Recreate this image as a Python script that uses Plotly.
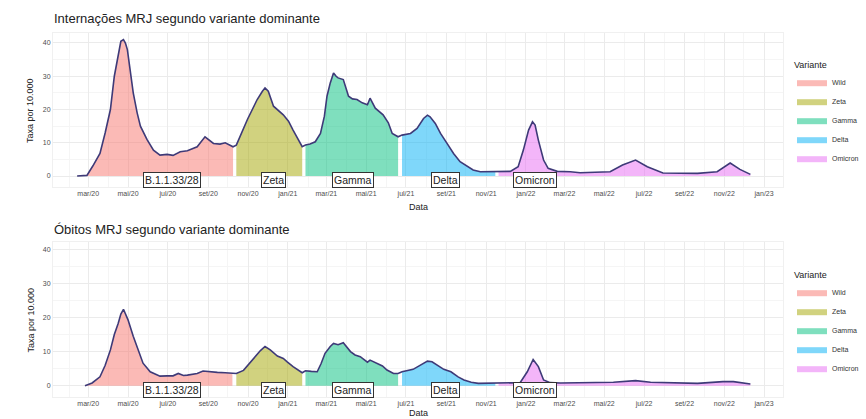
import plotly.graph_objects as go

# ---------------- data ----------------
variants = ["Wild", "Zeta", "Gamma", "Delta", "Omicron"]
fill_colors = ["rgba(248,118,109,0.5)", "rgba(163,165,0,0.5)", "rgba(0,191,125,0.5)",
               "rgba(0,176,246,0.5)", "rgba(231,107,243,0.5)"]

# Internações (hospitalisations) per variant period
hosp_wild_x = ["2020-02-13", "2020-02-28", "2020-03-08", "2020-03-19", "2020-03-27", "2020-04-04",
               "2020-04-10", "2020-04-16", "2020-04-20", "2020-04-24", "2020-04-27", "2020-04-30",
               "2020-05-04", "2020-05-09", "2020-05-15", "2020-05-20", "2020-05-30", "2020-06-09",
               "2020-06-19", "2020-06-30", "2020-07-09", "2020-07-20", "2020-07-31", "2020-08-15",
               "2020-08-27", "2020-09-09", "2020-09-19", "2020-09-27", "2020-10-09"]
hosp_wild_y = [0, 0.2, 3, 6.8, 13, 20, 30, 37, 40.5, 41, 40, 38, 32, 25, 19, 15, 11, 7.8,
               6.3, 6.5, 6.2, 7.3, 7.6, 8.8, 11.8, 9.8, 9.6, 10, 8.8]
hosp_zeta_x = ["2020-10-14", "2020-10-31", "2020-11-15", "2020-11-23", "2020-11-27", "2020-12-02",
               "2020-12-10", "2020-12-25", "2021-01-02", "2021-01-09", "2021-01-23"]
hosp_zeta_y = [9.3, 17, 23, 25.5, 26.5, 25.5, 21, 18.4, 16.5, 13.8, 8.8]
hosp_gamma_x = ["2021-01-28", "2021-02-04", "2021-02-12", "2021-02-20", "2021-02-26", "2021-03-02",
                "2021-03-07", "2021-03-12", "2021-03-16", "2021-03-19", "2021-03-27", "2021-04-04",
                "2021-04-10", "2021-04-17", "2021-04-25", "2021-05-03", "2021-05-07", "2021-05-15",
                "2021-05-27", "2021-06-04", "2021-06-10", "2021-06-19"]
hosp_gamma_y = [9.3, 9.6, 10.3, 12.8, 18, 24, 28, 31, 30, 29.5, 29, 24, 23.2, 23, 22, 21.4,
                23.4, 20.4, 18.4, 16, 12.8, 11.8]
hosp_delta_x = ["2021-06-25", "2021-07-08", "2021-07-18", "2021-07-28", "2021-08-03", "2021-08-07",
                "2021-08-15", "2021-08-23", "2021-09-02", "2021-09-12", "2021-09-22", "2021-10-03",
                "2021-10-12", "2021-10-23", "2021-11-07", "2021-11-15"]
hosp_delta_y = [12.3, 12.8, 14.3, 17.3, 18.3, 17.8, 15.8, 12.8, 9.8, 6.8, 4.3, 2.8, 1.8, 1.3, 1.3, 1.3]
hosp_omi_x = ["2021-11-20", "2021-12-08", "2021-12-20", "2021-12-28", "2022-01-05", "2022-01-11",
              "2022-01-15", "2022-01-20", "2022-01-28", "2022-02-04", "2022-02-18", "2022-03-10",
              "2022-03-25", "2022-04-25", "2022-05-10", "2022-05-29", "2022-06-18", "2022-07-06",
              "2022-07-30", "2022-09-21", "2022-10-21", "2022-11-10", "2022-11-25", "2022-12-11"]
hosp_omi_y = [1.3, 1.4, 2.8, 7.8, 13.8, 16.3, 15.3, 10.8, 4.8, 2.3, 1.4, 1.3, 1.0, 1.1, 1.3,
              3.3, 4.8, 2.8, 0.9, 0.8, 1.3, 3.9, 2.0, 0.5]

# Óbitos (deaths) per variant period
death_wild_x = ["2020-02-25", "2020-03-07", "2020-03-19", "2020-03-27", "2020-04-04", "2020-04-10",
                "2020-04-16", "2020-04-20", "2020-04-24", "2020-04-28", "2020-05-01", "2020-05-09",
                "2020-05-15", "2020-05-24", "2020-06-04", "2020-06-19", "2020-06-30", "2020-07-09",
                "2020-07-17", "2020-07-25", "2020-07-31", "2020-08-15", "2020-08-24", "2020-09-04",
                "2020-09-15", "2020-09-27", "2020-10-08"]
death_wild_y = [0, 0.8, 2.6, 6, 10.5, 15, 18.3, 21, 22.4, 20.5, 19.3, 14.5, 11.5, 6.6, 4.1,
                2.8, 2.9, 2.9, 3.6, 3.0, 3.1, 3.6, 4.3, 4.0, 3.9, 3.8, 3.6]
death_zeta_x = ["2020-10-14", "2020-10-25", "2020-11-09", "2020-11-20", "2020-11-27", "2020-12-05",
                "2020-12-16", "2020-12-25", "2020-12-31", "2021-01-09", "2021-01-23"]
death_zeta_y = [3.6, 4.5, 8, 10.3, 11.5, 10.5, 8.7, 8, 7, 5.6, 3.8]
death_gamma_x = ["2021-01-28", "2021-02-06", "2021-02-15", "2021-02-21", "2021-02-27", "2021-03-07",
                 "2021-03-12", "2021-03-19", "2021-03-27", "2021-04-07", "2021-04-14", "2021-04-22",
                 "2021-05-03", "2021-05-07", "2021-05-18", "2021-05-26", "2021-06-02", "2021-06-12",
                 "2021-06-19"]
death_gamma_y = [4.4, 4.2, 4.1, 6.5, 9.5, 11.5, 12.4, 12, 12.6, 10, 9, 8.5, 6.9, 7.5, 6.6,
                 5.8, 4.6, 3.6, 3.6]
death_delta_x = ["2021-06-25", "2021-07-12", "2021-07-23", "2021-08-03", "2021-08-10", "2021-08-18",
                 "2021-08-28", "2021-09-08", "2021-09-19", "2021-09-28", "2021-10-09", "2021-10-20",
                 "2021-11-15"]
death_delta_y = [4.1, 4.8, 6, 7.2, 7, 6, 4.8, 4.1, 2.6, 1.7, 1.0, 0.7, 0.7]
death_omi_x = ["2021-11-20", "2021-12-08", "2021-12-23", "2022-01-03", "2022-01-12", "2022-01-20",
               "2022-01-28", "2022-02-07", "2022-02-23", "2022-05-15", "2022-06-02", "2022-06-18",
               "2022-07-11", "2022-09-21", "2022-10-30", "2022-11-15", "2022-12-11"]
death_omi_y = [0.7, 0.7, 0.9, 4.1, 7.7, 5.6, 1.7, 0.9, 0.8, 1.0, 1.3, 1.5, 1.0, 0.7, 1.2, 1.2, 0.5]

label_texts = ["B.1.1.33/28", "Zeta", "Gamma", "Delta", "Omicron"]
label_dates = ["2020-07-08", "2020-12-10", "2021-04-11", "2021-08-30", "2022-01-15"]
label_y = -1.2

tick_vals = ["2020-03-01", "2020-05-01", "2020-07-01", "2020-09-01", "2020-11-01", "2021-01-01",
             "2021-03-01", "2021-05-01", "2021-07-01", "2021-09-01", "2021-11-01", "2022-01-01",
             "2022-03-01", "2022-05-01", "2022-07-01", "2022-09-01", "2022-11-01", "2023-01-01"]
tick_text = ["mar/20", "mai/20", "jul/20", "set/20", "nov/20", "jan/21", "mar/21", "mai/21",
             "jul/21", "set/21", "nov/21", "jan/22", "mar/22", "mai/22", "jul/22", "set/22",
             "nov/22", "jan/23"]
y_ticks = [0, 10, 20, 30, 40]

panels = [
    dict(title="Internações MRJ segundo variante dominante",
         xs=[hosp_wild_x, hosp_zeta_x, hosp_gamma_x, hosp_delta_x, hosp_omi_x],
         ys=[hosp_wild_y, hosp_zeta_y, hosp_gamma_y, hosp_delta_y, hosp_omi_y]),
    dict(title="Óbitos MRJ segundo variante dominante",
         xs=[death_wild_x, death_zeta_x, death_gamma_x, death_delta_x, death_omi_x],
         ys=[death_wild_y, death_zeta_y, death_gamma_y, death_delta_y, death_omi_y]),
]

# ---------------- figure ----------------
W, H = 866, 419
FONT = "Liberation Sans"
LINE_COLOR = "#3E3A78"

fig = go.Figure()
x_dom = [53 / W, 783 / W]
y_doms = [[1 - 187 / H, 1 - 33 / H], [1 - 397 / H, 1 - 242 / H]]
y_ranges = [[-3.3, 43], [-3.3, 42.1]]
legend_names = ["legend", "legend2"]

annotations = []
for i, p in enumerate(panels):
    xa = "x" if i == 0 else "x2"
    ya = "y" if i == 0 else "y2"
    for v, col, xv, yv in zip(variants, fill_colors, p["xs"], p["ys"]):
        fig.add_trace(go.Scatter(x=xv, y=yv, mode="lines", fill="tozeroy", fillcolor=col,
                                 line=dict(width=0, color=col), name=v, xaxis=xa, yaxis=ya,
                                 legend=legend_names[i], hoverinfo="skip"))
    all_x = [d for xv in p["xs"] for d in xv]
    all_y = [d for yv in p["ys"] for d in yv]
    fig.add_trace(go.Scatter(x=all_x, y=all_y, mode="lines", line=dict(color=LINE_COLOR, width=1.6),
                             showlegend=False, xaxis=xa, yaxis=ya))
    for t, d in zip(label_texts, label_dates):
        annotations.append(dict(x=d, y=label_y, xref=xa, yref=ya, text=t, showarrow=False,
                                font=dict(family=FONT, size=10.5, color="#222222"),
                                bgcolor="white", bordercolor="#333333", borderwidth=1, borderpad=1))
    top_px = 33 if i == 0 else 242
    bot_px = 187 if i == 0 else 397
    annotations.append(dict(x=52 / W, y=1 - (18 if i == 0 else 230) / H, xref="paper", yref="paper",
                            text=p["title"], showarrow=False, xanchor="left", yanchor="middle",
                            font=dict(family=FONT, size=13, color="#222222")))
    annotations.append(dict(x=418 / W, y=1 - (207 if i == 0 else 413) / H, xref="paper", yref="paper",
                            text="Data", showarrow=False, xanchor="center", yanchor="middle",
                            font=dict(family=FONT, size=9, color="#222222")))
    annotations.append(dict(x=30 / W, y=1 - ((top_px + bot_px) / 2) / H, xref="paper", yref="paper",
                            text="Taxa por 10.000", showarrow=False, textangle=-90,
                            xanchor="center", yanchor="middle",
                            font=dict(family=FONT, size=9, color="#222222")))

axis_common_x = dict(type="date", range=["2020-01-07", "2023-01-30"], domain=x_dom,
                     tickmode="array", tickvals=tick_vals, ticktext=tick_text,
                     tickfont=dict(family=FONT, size=7, color="#4D4D4D"),
                     showgrid=True, gridcolor="#EBEBEB", gridwidth=1, zeroline=False,
                     ticks="", showline=True, linecolor="#F0F0F0", mirror=True,
                     minor=dict(tickmode="linear", tick0="2020-02-01", dtick="M2",
                                showgrid=True, gridcolor="#F5F5F5", gridwidth=0.8))
axis_common_y = dict(tickmode="array", tickvals=y_ticks,
                     tickfont=dict(family=FONT, size=7, color="#4D4D4D"),
                     showgrid=True, gridcolor="#EBEBEB", gridwidth=1, zeroline=False,
                     ticks="", showline=True, linecolor="#F0F0F0", mirror=True,
                     minor=dict(tickmode="linear", tick0=5, dtick=10, showgrid=True,
                                gridcolor="#F5F5F5", gridwidth=0.8))

fig.update_layout(
    width=W, height=H, margin=dict(l=0, r=0, t=0, b=0),
    paper_bgcolor="white", plot_bgcolor="white",
    font=dict(family=FONT),
    xaxis=dict(axis_common_x, anchor="y"),
    xaxis2=dict(axis_common_x, anchor="y2"),
    yaxis=dict(axis_common_y, domain=y_doms[0], range=y_ranges[0], anchor="x"),
    yaxis2=dict(axis_common_y, domain=y_doms[1], range=y_ranges[1], anchor="x2"),
    annotations=annotations,
    legend=dict(x=792 / W, y=1 - 56 / H, xanchor="left", yanchor="top",
                title=dict(text="Variante", font=dict(family=FONT, size=9, color="#222222")),
                font=dict(family=FONT, size=7, color="#333333"), itemwidth=30,
                bgcolor="rgba(0,0,0,0)", tracegroupgap=0),
    legend2=dict(x=792 / W, y=1 - 266 / H, xanchor="left", yanchor="top",
                 title=dict(text="Variante", font=dict(family=FONT, size=9, color="#222222")),
                 font=dict(family=FONT, size=7, color="#333333"), itemwidth=30,
                 bgcolor="rgba(0,0,0,0)", tracegroupgap=0),
    showlegend=True,
)

fig.write_html("out.html", config={"displayModeBar": False},
               post_script="document.body.style.margin='0';document.body.style.overflow='hidden';")
